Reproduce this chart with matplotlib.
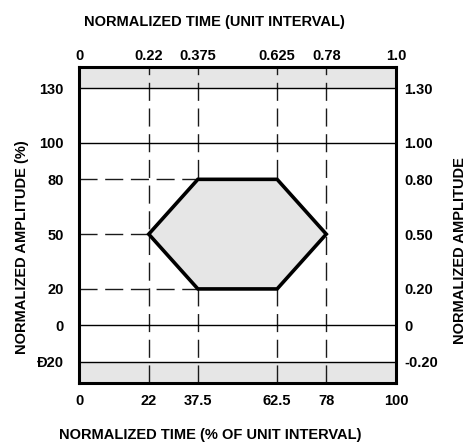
import matplotlib
matplotlib.use("Agg")
import matplotlib.pyplot as plt

# data
x_ticks = [0, 22, 37.5, 62.5, 78, 100]
x_tick_labels = ["0", "22", "37.5", "62.5", "78", "100"]
top_tick_labels = ["0", "0.22", "0.375", "0.625", "0.78", "1.0"]
y_ticks = [130, 100, 80, 50, 20, 0, -20]
y_tick_labels = ["130", "100", "80", "50", "20", "0", "Ð20"]
right_tick_labels = ["1.30", "1.00", "0.80", "0.50", "0.20", "0", "-0.20"]
mask_x = [22, 37.5, 62.5, 78, 62.5, 37.5, 22]
mask_y = [50, 80, 80, 50, 20, 20, 50]
solid_levels = [130, 100, 0, -20]
dashed_levels = [80, 50, 20]
dashed_level_ends = [37.5, 22, 37.5]
vertical_dashed = [22, 37.5, 62.5, 78]

plt.rcParams['font.family'] = ['Liberation Sans', 'DejaVu Sans']
plt.rcParams['font.weight'] = 'bold'

fig = plt.figure(figsize=(4.7, 4.43), dpi=100)
W, H = 470, 443
left, right, top, bottom = 79, 396, 67, 383
ax = fig.add_axes([left / W, 1 - bottom / H, (right - left) / W, (bottom - top) / H])
ymin, ymax = -31.5, 141.5
ax.set_xlim(0, 100)
ax.set_ylim(ymin, ymax)

gray = '#e6e6e6'
ax.axhspan(130, ymax, color=gray, zorder=0, lw=0)
ax.axhspan(ymin, -20, color=gray, zorder=0, lw=0)

for lv in solid_levels:
    ax.axhline(lv, color='black', lw=1.0, zorder=2)

dash = (0, (13, 5.5))
for xv in vertical_dashed:
    ax.axvline(xv, color='#1a1a1a', lw=1.0, linestyle=dash, zorder=1)
for lv, xe in zip(dashed_levels, dashed_level_ends):
    ax.plot([0, xe], [lv, lv], color='#1a1a1a', lw=1.0, linestyle=dash, zorder=1)

ax.fill(mask_x, mask_y, facecolor=gray, edgecolor='black', lw=2.6, zorder=3,
        joinstyle='miter')

for s in ax.spines.values():
    s.set_linewidth(2.2)
    s.set_zorder(5)

fs = 10.5
ax.set_xticks(x_ticks)
ax.set_xticklabels(x_tick_labels, fontsize=fs, fontweight='bold')
ax.set_yticks(y_ticks)
ax.set_yticklabels(y_tick_labels, fontsize=fs, fontweight='bold')
ax.tick_params(axis='x', length=0, pad=8)
ax.tick_params(axis='y', length=0, pad=11)

axt = ax.secondary_xaxis('top')
axt.set_xticks(x_ticks)
axt.set_xticklabels(top_tick_labels, fontsize=fs, fontweight='bold')
axt.tick_params(length=0, pad=3)
axt.spines['top'].set_visible(False)

axr = ax.secondary_yaxis('right')
axr.set_yticks(y_ticks)
axr.set_yticklabels(right_tick_labels, fontsize=fs, fontweight='bold')
axr.tick_params(length=0, pad=6)
axr.spines['right'].set_visible(False)

fig.text(214 / W, 1 - 22 / H, "NORMALIZED TIME (UNIT INTERVAL)", ha='center', va='center',
         fontsize=fs, fontweight='bold')
fig.text(210 / W, 1 - 435 / H, "NORMALIZED TIME (% OF UNIT INTERVAL)", ha='center', va='center',
         fontsize=fs, fontweight='bold')
fig.text(22 / W, 1 - 247 / H, "NORMALIZED AMPLITUDE (%)", ha='center', va='center',
         rotation=90, fontsize=fs, fontweight='bold')
fig.text(460 / W, 1 - 251 / H, "NORMALIZED AMPLITUDE", ha='center', va='center',
         rotation=90, fontsize=fs, fontweight='bold')

fig.savefig("out.png", dpi=100)
